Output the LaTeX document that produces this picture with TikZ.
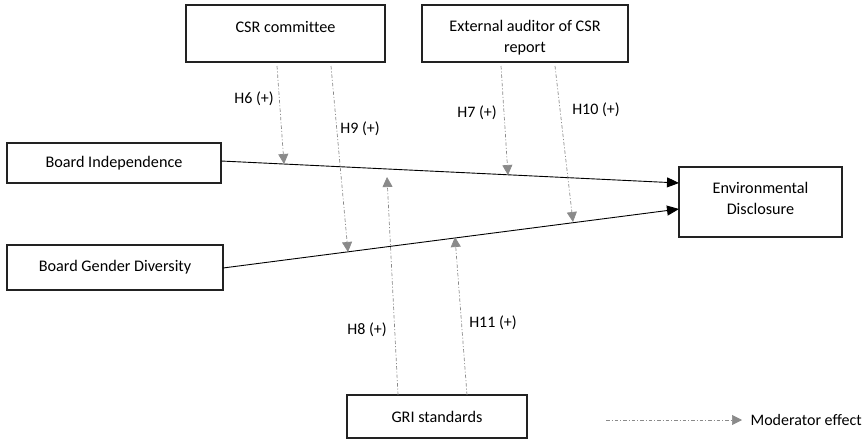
\documentclass[tikz,border=0pt]{standalone}
\usepackage{fontspec}
\setmainfont{Carlito}[Ligatures=NoCommon]
\usetikzlibrary{arrows.meta}

\definecolor{boxline}{HTML}{222222}
\definecolor{modgray}{HTML}{8A8A8A}

\tikzset{
  varbox/.style={draw=boxline, line width=1.5pt, inner sep=0pt},
  boxtext/.style={font=\fontsize{16.2}{21.5}\selectfont, align=center, inner sep=0pt},
  effect/.style={black, line width=0.9pt, -{Triangle[length=12pt,width=10pt]}},
  moderator/.style={modgray, line width=0.7pt,
    dash pattern=on 3.5pt off 2pt on 1pt off 2pt,
    -{Triangle[length=10pt,width=10pt,fill=modgray]}},
  hyp/.style={font=\fontsize{16}{18}\selectfont, inner sep=0pt},
}

\begin{document}
\begin{tikzpicture}[x=1pt,y=-1pt]
  \useasboundingbox (0,0) rectangle (865,439);

  % variables (text placed inside each frame)
  \node[varbox, minimum width=199pt, minimum height=57pt,
        label={[boxtext, yshift=6.5pt]center:CSR committee}] (csr) at (285.5,33.5) {};
  \node[varbox, minimum width=206pt, minimum height=57pt,
        label={[boxtext, yshift=-4pt]center:{External auditor of CSR\\report}}] (aud) at (525,33.5) {};
  \node[varbox, minimum width=214pt, minimum height=40pt,
        label={[boxtext]center:Board Independence}] (bi) at (114,163) {};
  \node[varbox, minimum width=216pt, minimum height=45pt,
        label={[boxtext]center:Board Gender Diversity}] (bgd) at (115,267.5) {};
  \node[varbox, minimum width=163pt, minimum height=70pt,
        label={[boxtext, yshift=3.5pt]center:{Environmental\\Disclosure}}] (env) at (760.5,202) {};
  \node[varbox, minimum width=180pt, minimum height=43pt,
        label={[boxtext]center:GRI standards}] (gri) at (437,416.5) {};

  % direct effects
  \coordinate (biout) at (221,161);
  \coordinate (envin1) at (679,183);
  \coordinate (bgdout) at (223,268);
  \coordinate (envin2) at (679,209);
  \draw[effect] (biout) -- (envin1);
  \draw[effect] (bgdout) -- (envin2);

  % moderating effects
  \coordinate (h6s) at (277,66);  \coordinate (h6e) at (284,164);
  \coordinate (h9s) at (331,66);  \coordinate (h9e) at (348,252);
  \coordinate (h7s) at (501,66);  \coordinate (h7e) at (508,175);
  \coordinate (h10s) at (555,66); \coordinate (h10e) at (573,222);
  \coordinate (h8s) at (398,395); \coordinate (h8e) at (387,177);
  \coordinate (h11s) at (467,395); \coordinate (h11e) at (455,237);
  \draw[moderator] (h6s) -- (h6e);
  \draw[moderator] (h9s) -- (h9e);
  \draw[moderator] (h7s) -- (h7e);
  \draw[moderator] (h10s) -- (h10e);
  \draw[moderator] (h8s) -- (h8e);
  \draw[moderator] (h11s) -- (h11e);

  % hypothesis labels
  \node[hyp] (l6) at (254,99) {H6 (+)};
  \node[hyp] (l9) at (360,129) {H9 (+)};
  \node[hyp] (l7) at (477,113) {H7 (+)};
  \node[hyp] (l10) at (596,110) {H10 (+)};
  \node[hyp] (l8) at (367,330) {H8 (+)};
  \node[hyp] (l11) at (493,323) {H11 (+)};

  % legend
  \coordinate (legs) at (606,420);
  \coordinate (lege) at (742,420);
  \draw[moderator] (legs) -- (lege);
  \node[hyp, anchor=east] (legtext) at (862,420) {Moderator effect};
\end{tikzpicture}
\end{document}
